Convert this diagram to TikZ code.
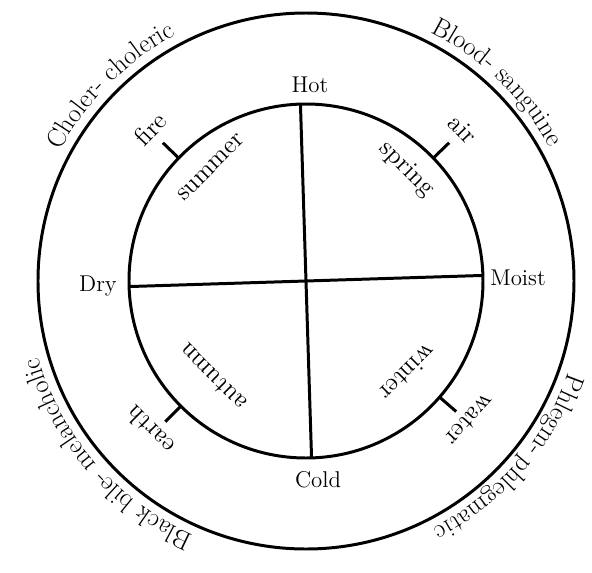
\documentclass[tikz,border=0pt]{standalone}
\usepackage{tikz}
\usetikzlibrary{decorations.text}

\begin{document}
\begin{tikzpicture}[x=0.02cm,y=0.02cm,
    ring/.style={line width=1.7pt},
    quality/.style={font=\fontsize{13}{15}\selectfont},
    season/.style={font=\fontsize{14.5}{17}\selectfont},
    humour/.style={decorate, decoration={text along path, text align=center,
        text={|\fontsize{15}{18}\selectfont|#1}}}]
    \useasboundingbox (-306,-291) rectangle (286,281);
    \coordinate (O) at (0,0);
    \draw[ring] (O) circle[radius=177];
    \draw[ring] (O) circle[radius=268];
    % cross of the four qualities
    \coordinate (T) at (91.8:177);
    \coordinate (B) at (271.8:177);
    \coordinate (L) at (181.8:177);
    \coordinate (R) at (1.8:177);
    \draw[ring] (T) -- (B);
    \draw[ring] (L) -- (R);
    \node[quality] (hot) at (4,196) {Hot};
    \node[quality] (cold) at (12,-199) {Cold};
    \node[quality] (dry) at (-208,-5) {Dry};
    \node[quality] (moist) at (212,3) {Moist};
    % element ticks
    \coordinate (fireA) at (136:177);
    \coordinate (fireB) at (136:199);
    \coordinate (airA) at (44:177);
    \coordinate (airB) at (44:199);
    \coordinate (earthA) at (225:177);
    \coordinate (earthB) at (225:199);
    \coordinate (waterA) at (-41:177);
    \coordinate (waterB) at (-41:199);
    \draw[ring] (fireA) -- (fireB);
    \draw[ring] (airA) -- (airB);
    \draw[ring] (earthA) -- (earthB);
    \draw[ring] (waterA) -- (waterB);
    \node[season, rotate=46] (fire) at (135.6:218) {fire};
    \node[season, rotate=-46] (air) at (44:218) {air};
    \node[season, rotate=135] (earth) at (223.7:216) {earth};
    \node[season, rotate=228] (water) at (-40.3:215) {water};
    % seasons
    \node[season, rotate=45] (summer) at (130:148) {summer};
    \node[season, rotate=-45] (spring) at (48:150) {spring};
    \node[season, rotate=135] (autumn) at (226:134) {autumn};
    \node[season, rotate=225] (winter) at (-42:137) {winter};
    % humours round the outside
    \path[humour={Choler- choleric}] (175:278) arc[start angle=175, end angle=95, radius=278];
    \path[humour={Blood- sanguine}] (86:278) arc[start angle=86, end angle=6, radius=278];
    \path[humour={Phlegm- phlegmatic}] (-1:278) arc[start angle=-1, end angle=-81, radius=278];
    \path[humour={Black bile- melancholic}] (261:278) arc[start angle=261, end angle=181, radius=278];
\end{tikzpicture}
\end{document}
